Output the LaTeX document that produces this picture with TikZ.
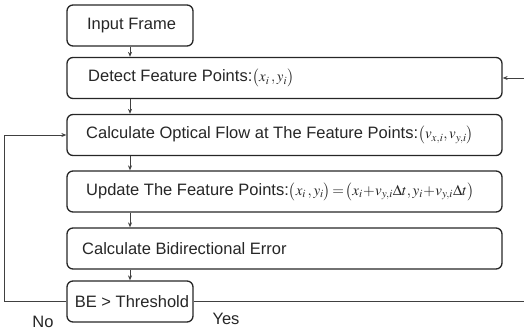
\documentclass[tikz,border=0pt]{standalone}
\usepackage{mathptmx}
\usepackage{fontspec}
\setmainfont{Liberation Sans}
\usetikzlibrary{arrows.meta}
\newcommand{\fm}[1]{{\fontsize{15}{18}\selectfont$#1$}}
\begin{document}
\begin{tikzpicture}[x=1pt,y=-1pt,
  box/.style={draw=black!85, line width=1.3pt, rounded corners=6pt, minimum height=41pt, inner sep=0pt},
  txt/.style={anchor=west, inner sep=0pt, font=\fontsize{16.5}{18}\selectfont, text=black!85},
  conn/.style={draw=black!75, line width=0.8pt},
  arr/.style={conn, -{Stealth[length=5pt,width=4pt]}}]
\useasboundingbox (0,0) rectangle (524,332);
% boxes
\node[box, minimum width=126pt] (input) at (130,25.5) {};
\node[box, minimum width=435pt] (detect) at (284.5,78) {};
\node[box, minimum width=435pt] (of) at (284.5,135) {};
\node[box, minimum width=435pt] (upd) at (284.5,191.5) {};
\node[box, minimum width=435pt] (be) at (284.5,248.5) {};
\node[box, minimum width=126pt] (thr) at (130,301.5) {};
% texts
\node[txt, anchor=center] (inputT) at (131.5,25.5) {Input Frame};
\node[txt] (detectT) at (88,78) {Detect Feature Points:\fm{\bigl(x_i\,, y_i\bigr)}};
\node[txt] (ofT) at (86,135) {Calculate Optical Flow at The Feature Points:\fm{\bigl(v_{x,i}, v_{y,i}\bigr)}};
\node[txt] (updT) at (86,191.5) {Update The Feature Points:\fm{\bigl(x_i\,, y_i\bigr)\!=\!\bigl(x_i\!+\!v_{y,i}\Delta t, y_i\!+\!v_{y,i}\Delta t\bigr)}};
\node[txt] (beT) at (82,248.5) {Calculate Bidirectional Error};
\node[txt, anchor=center] (thrT) at (132,301.5) {BE > Threshold};
\node[txt, anchor=center] (no) at (43,322) {No};
\node[txt, anchor=center] (yes) at (226,319) {Yes};
% vertical arrows
\draw[arr] (input.south) -- (input.south |- detect.north);
\draw[arr] (detect.south -| input) -- (of.north -| input);
\draw[arr] (of.south -| input) -- (upd.north -| input);
\draw[arr] (upd.south -| input) -- (be.north -| input);
\draw[arr] (be.south -| input) -- (thr.north);
% loops
\coordinate (lcorner) at (4,301.5);
\coordinate (yesend) at (524,301.5);
\coordinate (rin) at (524,78);
\draw[arr] (thr.west) -- (lcorner) |- (of.west);
\draw[conn] (thr.east) -- (yesend);
\draw[arr] (rin) -- (detect.east);
\end{tikzpicture}
\end{document}
